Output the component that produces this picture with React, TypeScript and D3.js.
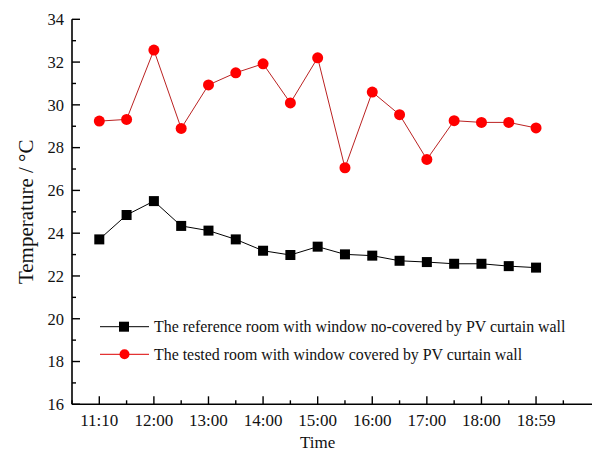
import React from "react";
import * as d3 from "d3";

const times = ["11:10","11:30","12:00","12:30","13:00","13:30","14:00","14:30","15:00","15:30","16:00","16:30","17:00","17:30","18:00","18:30","18:59"];
const referenceRoom = [23.71,24.85,25.5,24.34,24.12,23.71,23.18,22.98,23.37,23.01,22.95,22.71,22.65,22.57,22.57,22.46,22.39];
const testedRoom = [29.24,29.32,32.56,28.9,30.93,31.5,31.92,30.09,32.2,27.06,30.6,29.54,27.45,29.26,29.18,29.18,28.92];
const xTickLabels = ["11:10","12:00","13:00","14:00","15:00","16:00","17:00","18:00","18:59"];
const yTicks = [16,18,20,22,24,26,28,30,32,34];
const legendLabels = [
  "The reference room with window no-covered by PV curtain wall",
  "The tested room with window covered by PV curtain wall",
];

const W = 595, H = 453;
const font = "'Liberation Serif', 'Times New Roman', serif";

export default function App() {
  const x = d3.scaleLinear().domain([-1, 18.05]).range([72, 592]);
  const y = d3.scaleLinear().domain([16, 34]).range([404.3, 19.3]);
  const idx = times.map((_, i) => i);
  const line = d3.line<number>().x((_, i) => x(i)).y((d) => y(d));
  const majorIdx = idx.filter((i) => i % 2 === 0);
  const minorX = d3.range(-1, 18.5, 2);
  const minorY = d3.range(17, 34, 2);

  return (
    <svg width={W} height={H} style={{ position: "absolute", left: 0, top: 0, background: "#fff" }} fontFamily={font}>
      {/* axes */}
      <line x1={72} x2={72} y1={y(34)} y2={y(16)} stroke="#000" strokeWidth={1.6} />
      <line x1={72} x2={592} y1={y(16)} y2={y(16)} stroke="#000" strokeWidth={1.6} />
      {yTicks.map((t) => (
        <g key={"yt" + t}>
          <line x1={72} x2={80} y1={y(t)} y2={y(t)} stroke="#000" strokeWidth={1.4} />
          <text x={64} y={y(t)} dy="0.35em" textAnchor="end" fontSize={16.5} fill="#111">{t}</text>
        </g>
      ))}
      {minorY.map((t) => (
        <line key={"ym" + t} x1={72} x2={76} y1={y(t)} y2={y(t)} stroke="#000" strokeWidth={1.4} />
      ))}
      {majorIdx.map((i, k) => (
        <g key={"xt" + i}>
          <line x1={x(i)} x2={x(i)} y1={y(16)} y2={y(16) - 8} stroke="#000" strokeWidth={1.4} />
          <text x={x(i)} y={y(16) + 22} textAnchor="middle" fontSize={17} fill="#111">{xTickLabels[k]}</text>
        </g>
      ))}
      {minorX.map((v) => (
        <line key={"xm" + v} x1={x(v)} x2={x(v)} y1={y(16)} y2={y(16) - 4} stroke="#000" strokeWidth={1.4} />
      ))}
      <text x={x(8)} y={448} textAnchor="middle" fontSize={17} fill="#111">Time</text>
      <text transform={`translate(33,${(y(34) + y(16)) / 2}) rotate(-90)`} textAnchor="middle" fontSize={21} fill="#111">Temperature / °C</text>

      {/* series */}
      <path d={line(testedRoom) || ""} fill="none" stroke="#b22" strokeWidth={1} />
      {testedRoom.map((v, i) => (
        <circle key={"r" + i} cx={x(i)} cy={y(v)} r={5.5} fill="#f00" />
      ))}
      <path d={line(referenceRoom) || ""} fill="none" stroke="#000" strokeWidth={1} />
      {referenceRoom.map((v, i) => (
        <rect key={"b" + i} x={x(i) - 5} y={y(v) - 5} width={10} height={10} fill="#000" />
      ))}

      {/* legend */}
      <g>
        <line x1={100} x2={149} y1={326.7} y2={326.7} stroke="#000" strokeWidth={1} />
        <rect x={119} y={321.7} width={10} height={10} fill="#000" />
        <text x={154} y={326.7} dy="0.35em" fontSize={15.9} fill="#111">{legendLabels[0]}</text>
        <line x1={100} x2={149} y1={354.3} y2={354.3} stroke="#d00" strokeWidth={1} />
        <circle cx={124.5} cy={354.3} r={5} fill="#f00" />
        <text x={154} y={354.3} dy="0.35em" fontSize={15.9} fill="#111">{legendLabels[1]}</text>
      </g>
    </svg>
  );
}
